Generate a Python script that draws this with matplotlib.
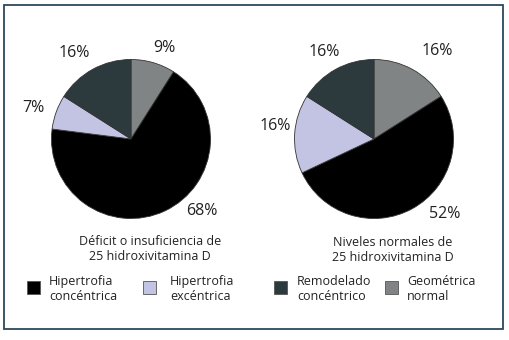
import matplotlib
matplotlib.use("Agg")
import matplotlib.pyplot as plt
from matplotlib.patches import Rectangle

plt.rcParams['font.family'] = ['Open Sans', 'DejaVu Sans']

# categories, clockwise from 12 o'clock
categories = ["Geométrica\nnormal", "Hipertrofia\nconcéntrica", "Hipertrofia\nexcéntrica", "Remodelado\nconcéntrico"]
colors = ["#808484", "#000000", "#c3c3e3", "#2c3a3e"]

deficit_pct = [9, 68, 7, 16]
normal_pct = [16, 52, 16, 16]

titles = ["Déficit o insuficiencia de\n25 hidroxivitamina D",
          "Niveles normales de\n25 hidroxivitamina D"]

# legend order as shown under the charts
legend_order = [1, 2, 3, 0]

W, H = 509, 340
fig = plt.figure(figsize=(W / 100, H / 100), dpi=100)
ax = fig.add_axes([0, 0, 1, 1])
ax.set_xlim(0, W)
ax.set_ylim(0, H)
ax.axis("off")

def Y(y):
    return H - y

pies = [
    (deficit_pct, (131, Y(139)), [(164, 48), (74, 53), (33, 108), (202, 211)], (150, 249), titles[0]),
    (normal_pct, (374, Y(139)), [(437, 51), (324, 52), (275, 126), (445, 214)], (393, 250), titles[1]),
]
# label positions listed in order: gray, dark, lavender, black
label_idx = [0, 3, 2, 1]

for vals, center, lab_pos, title_pos, title in pies:
    ax.pie(vals, colors=colors, startangle=90, counterclock=False,
           center=center, radius=79.5, frame=True,
           wedgeprops=dict(edgecolor="#333333", linewidth=0.6))
    for (x, y), i in zip(lab_pos, label_idx):
        ax.text(x, Y(y), f"{vals[i]}%", ha="center", va="center", fontsize=11.5, color="#222222")
    ax.text(title_pos[0], Y(title_pos[1]), title, ha="center", va="center",
            fontsize=9, color="#222222", linespacing=1.25)

ax.set_xlim(0, W)
ax.set_ylim(0, H)
ax.set_aspect("equal")
ax.axis("off")

sq_x = [34, 150, 281, 392]
txt_x = [49, 170, 297, 407]
for k, i in enumerate(legend_order):
    ax.add_patch(Rectangle((sq_x[k] - 6.5, Y(287) - 6.5), 13, 13, facecolor=colors[i],
                           edgecolor="#555555", linewidth=0.6))
    ax.text(txt_x[k], Y(289), categories[i], ha="left", va="center",
            fontsize=9, color="#222222", linespacing=1.2)

ax.add_patch(Rectangle((4.5, Y(329)), 499, 324, facecolor="none",
                       edgecolor="#2b4a5c", linewidth=1.3))

fig.savefig("out.png", dpi=100)
